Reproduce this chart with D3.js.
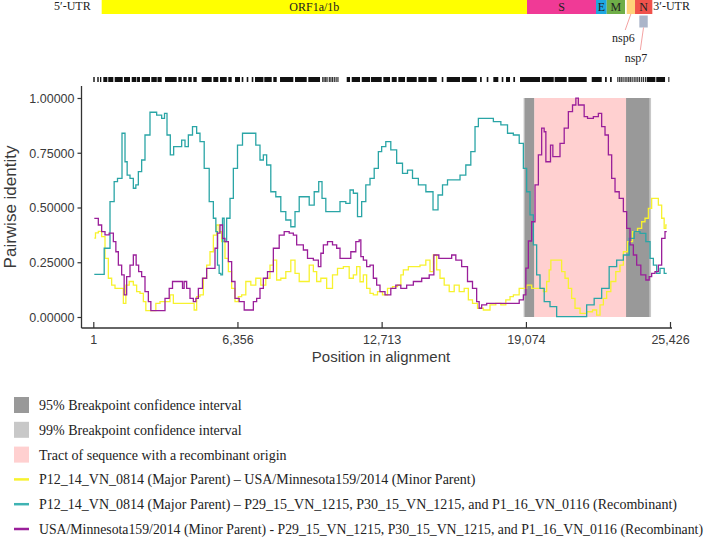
<!DOCTYPE html>
<html>
<head>
<meta charset="utf-8">
<script src="https://cdn.jsdelivr.net/npm/d3@7"></script>
<style>
  body { margin: 0; background: #fff; }
  svg { display: block; }
  .tick-label { font-family: "Liberation Sans", Arial, sans-serif; fill: #3a3a3a; }
  .serif { font-family: "Liberation Serif", "Times New Roman", serif; fill: #222; }
</style>
</head>
<body>
<div id="chart"></div>
<script>
// Alignment axis
const xTicks = [1, 6356, 12713, 19074, 25426];
const yTicks = [0, 0.25, 0.5, 0.75, 1.0];

// Breakpoint intervals and recombinant tract (alignment positions)
const ci99 = [[18970, 19445], [23488, 24591]];
const ci95 = [[19022, 19445], [23488, 24516]];
const tract = [[19445, 23488]];

// Genome schematic (in alignment positions)
const genes = [
    {name: 'ORF1a/1b', start: 371, end: 19122, color: '#ffff00', label: true},
    {name: 'S', start: 19122, end: 22164, color: '#f03a96', label: true},
    {name: 'E', start: 22164, end: 22636, color: '#1ea7e1', label: true},
    {name: 'M', start: 22636, end: 23443, color: '#6fae48', label: true},
    {name: 'nsp6', start: 23518, end: 23884, color: '#ffd27a', label: false},
    {name: 'N', start: 23884, end: 24647, color: '#f0524c', label: true}
];
const nsp7 = {start: 24074, end: 24444};

// Informative sites along the alignment
const siteBlocks = [
    [1, 63], [177, 239], [296, 354], [442, 620], [660, 883], [944, 1297], [1355, 1619],
    [1694, 1900], [1930, 2060], [2135, 2501], [2558, 2800], [2830, 3017], [3162, 3678],
    [3749, 3899], [3969, 4119], [4190, 4340], [4410, 4560], [4780, 5221], [5292, 5512],
    [5587, 5883], [5953, 6103], [6249, 6469], [6544, 6615], [6764, 6835], [6985, 7055],
    [7130, 7500], [7540, 7867], [7937, 8087], [8233, 8819], [8894, 9410], [9480, 9996],
    [11173, 11319], [11394, 11760], [11835, 12200], [12240, 12717], [12787, 13083],
    [13158, 13378], [13448, 13744], [13819, 14260], [14330, 14701], [14771, 15142],
    [15362, 15432], [15582, 16169], [16244, 16905], [17051, 17126], [17346, 17417],
    [17637, 17857], [18007, 18078], [18197, 18373], [18519, 18594], [18814, 19696],
    [19771, 20300], [20340, 20873], [20944, 21755], [21975, 22416], [22562, 22637],
    [22782, 22857], [24400, 24780], [24820, 25207], [25353, 25397]
];
const sparseSites = [10090, 10150, 10220, 10280, 10380, 10450, 10520, 10600, 10680, 10760,
    23100, 23180, 23250, 23330, 23420, 23500, 23580, 23650, 23730, 23820, 23900, 23980,
    24060, 24150, 24230, 24320];

// Series: [alignment position, pairwise identity]
const yellowSeries = [
    [45, 0.360], [149, 0.384], [296, 0.391], [442, 0.367], [592, 0.268], [737, 0.177], [883, 0.146],
    [1033, 0.131], [1253, 0.131], [1399, 0.062], [1474, 0.146], [1694, 0.162], [1839, 0.146],
    [1985, 0.116], [2135, 0.108], [2280, 0.070], [2355, 0.029], [2721, 0.029], [2796, 0.062],
    [3087, 0.070], [3308, 0.070], [3458, 0.101], [3603, 0.062], [4044, 0.062], [4410, 0.062],
    [4485, 0.032], [4630, 0.093], [4780, 0.101], [4926, 0.177], [5071, 0.237], [5221, 0.298],
    [5367, 0.374], [5512, 0.420], [5586, 0.390], [5732, 0.344], [5882, 0.268], [6028, 0.207],
    [6173, 0.131], [6323, 0.070], [6469, 0.093], [6614, 0.101], [6835, 0.162], [7055, 0.146],
    [7275, 0.177], [7496, 0.146], [7716, 0.177], [7866, 0.237], [8012, 0.260], [8157, 0.169],
    [8378, 0.177], [8598, 0.207], [8819, 0.260], [8969, 0.199], [9189, 0.162], [9410, 0.162],
    [9630, 0.237], [9776, 0.207], [9921, 0.162], [10142, 0.177], [10437, 0.131], [10657, 0.192],
    [10878, 0.222], [11173, 0.230], [11393, 0.177], [11539, 0.192], [11685, 0.230], [11834, 0.161],
    [11980, 0.192], [12125, 0.131], [12275, 0.108], [12420, 0.101], [12641, 0.116], [12861, 0.101],
    [13082, 0.131], [13302, 0.139], [13523, 0.146], [13598, 0.192], [13743, 0.215], [14039, 0.230],
    [14259, 0.230], [14550, 0.237], [14771, 0.260], [14921, 0.207], [15066, 0.283], [15212, 0.215],
    [15361, 0.177], [15582, 0.146], [15802, 0.116], [16023, 0.146], [16243, 0.116], [16463, 0.131],
    [16609, 0.078], [16829, 0.062], [17050, 0.040], [17345, 0.032], [17636, 0.055], [17857, 0.062],
    [18077, 0.055], [18298, 0.078], [18448, 0.093], [18594, 0.101], [18959, 0.131], [19254, 0.146],
    [19400, 0.131], [19770, 0.131], [19916, 0.116], [20061, 0.162], [20136, 0.215], [20211, 0.260],
    [20577, 0.260], [20722, 0.207], [20872, 0.177], [21018, 0.131], [21163, 0.085], [21313, 0.040],
    [21605, 0.017], [21900, 0.024], [22120, 0.032], [22266, 0.009], [22416, 0.055], [22561, 0.085],
    [22707, 0.116], [22927, 0.162], [23147, 0.207], [23297, 0.237], [23443, 0.298], [23664, 0.344],
    [23884, 0.390], [24104, 0.405], [24250, 0.435], [24399, 0.451], [24545, 0.496], [24691, 0.542],
    [24840, 0.542], [24986, 0.511], [25131, 0.451], [25206, 0.405], [25281, 0.420]
];

const tealSeries = [
    [45, 0.195], [371, 0.195], [592, 0.314], [883, 0.527], [958, 0.618], [1178, 0.633], [1355, 0.839],
    [1443, 0.709], [1544, 0.648], [1694, 0.633], [1839, 0.588], [1914, 0.603], [2060, 0.664],
    [2205, 0.717], [2355, 0.831], [2646, 0.935], [2942, 0.922], [3087, 0.907], [3193, 0.930],
    [3308, 0.831], [3484, 0.740], [3603, 0.778], [3824, 0.778], [3969, 0.808], [4119, 0.778],
    [4264, 0.831], [4485, 0.869], [4630, 0.839], [4780, 0.801], [5001, 0.679], [5221, 0.527],
    [5367, 0.451], [5441, 0.390], [5512, 0.237], [5586, 0.199], [5662, 0.192], [5732, 0.451],
    [5807, 0.344], [5953, 0.451], [6103, 0.542], [6248, 0.679], [6469, 0.785], [6689, 0.839],
    [7055, 0.839], [7275, 0.785], [7425, 0.717], [7571, 0.740], [7716, 0.694], [7937, 0.572],
    [8157, 0.549], [8378, 0.481], [8598, 0.443], [8819, 0.412], [8969, 0.481], [9189, 0.549],
    [9410, 0.549], [9630, 0.511], [9851, 0.572], [10027, 0.618], [10142, 0.542], [10362, 0.481],
    [10732, 0.481], [11023, 0.527], [11244, 0.519], [11393, 0.580], [11539, 0.565], [11759, 0.458],
    [11905, 0.527], [12125, 0.603], [12275, 0.633], [12495, 0.679], [12641, 0.755], [12786, 0.778],
    [13007, 0.801], [13227, 0.763], [13523, 0.702], [13743, 0.656], [13964, 0.671], [14184, 0.633],
    [14480, 0.603], [14846, 0.572], [15110, 0.489], [15287, 0.557], [15507, 0.603], [15727, 0.626],
    [16023, 0.626], [16314, 0.648], [16534, 0.694], [16755, 0.755], [16905, 0.869], [17050, 0.907],
    [17491, 0.907], [17787, 0.892], [18152, 0.877], [18373, 0.839], [18668, 0.831], [18889, 0.793],
    [19034, 0.679], [19180, 0.572], [19329, 0.466], [19475, 0.329], [19620, 0.192], [19770, 0.131],
    [19991, 0.070], [20282, 0.047], [20577, 0.002], [21605, 0.002], [21900, 0.055], [22266, 0.085],
    [22561, 0.131], [22927, 0.230], [23223, 0.260], [23518, 0.283], [23738, 0.359], [23959, 0.390],
    [24250, 0.382], [24471, 0.344], [24620, 0.268], [24766, 0.237], [24911, 0.199], [25061, 0.222],
    [25281, 0.199]
];

const purpleSeries = [
    [45, 0.450], [149, 0.450], [296, 0.420], [442, 0.390], [592, 0.375], [812, 0.383], [958, 0.344],
    [1033, 0.298], [1178, 0.237], [1324, 0.192], [1399, 0.101], [1544, 0.184], [1694, 0.237],
    [1839, 0.283], [1941, 0.237], [2060, 0.207], [2205, 0.184], [2355, 0.116], [2501, 0.070],
    [2576, 0.029], [3087, 0.029], [3237, 0.085], [3458, 0.131], [3528, 0.162], [3898, 0.162],
    [3969, 0.131], [4044, 0.162], [4189, 0.131], [4339, 0.085], [4485, 0.070], [4560, 0.085],
    [4705, 0.131], [4926, 0.177], [5071, 0.222], [5292, 0.222], [5441, 0.314], [5512, 0.383],
    [5662, 0.420], [5732, 0.359], [5882, 0.344], [6028, 0.253], [6173, 0.162], [6323, 0.085],
    [6544, 0.070], [6764, 0.032], [6985, 0.032], [7130, 0.070], [7275, 0.085], [7425, 0.131],
    [7571, 0.177], [7791, 0.207], [8087, 0.314], [8307, 0.374], [8528, 0.390], [8748, 0.383],
    [8894, 0.374], [9039, 0.329], [9189, 0.329], [9335, 0.306], [9555, 0.268], [9851, 0.260],
    [9996, 0.230], [10071, 0.291], [10216, 0.329], [10437, 0.344], [10657, 0.329], [10803, 0.314],
    [10953, 0.268], [11244, 0.268], [11464, 0.298], [11685, 0.344], [11759, 0.352], [11834, 0.276],
    [11980, 0.260], [12125, 0.230], [12275, 0.237], [12420, 0.177], [12566, 0.146], [12716, 0.116],
    [13007, 0.101], [13227, 0.131], [13448, 0.146], [13668, 0.131], [13964, 0.146], [14259, 0.162],
    [14700, 0.177], [14921, 0.192], [15110, 0.283], [15361, 0.268], [15727, 0.268], [15873, 0.283],
    [16094, 0.260], [16388, 0.230], [16609, 0.162], [16829, 0.131], [16975, 0.070], [17050, 0.040],
    [17195, 0.055], [17491, 0.062], [18668, 0.062], [18889, 0.078], [19034, 0.101], [19109, 0.223],
    [19254, 0.347], [19400, 0.435], [19550, 0.603], [19695, 0.740], [19840, 0.862], [19916, 0.846],
    [19991, 0.709], [20105, 0.709], [20211, 0.785], [20312, 0.732], [20502, 0.732], [20652, 0.793],
    [20872, 0.862], [21018, 0.938], [21238, 0.968], [21313, 0.999], [21458, 0.968], [21605, 0.968],
    [21679, 0.915], [21900, 0.907], [22195, 0.915], [22340, 0.930], [22486, 0.869], [22636, 0.831],
    [22782, 0.740], [22927, 0.633], [23077, 0.572], [23297, 0.542], [23443, 0.481], [23588, 0.405],
    [23738, 0.329], [23884, 0.283], [24029, 0.237], [24250, 0.192], [24471, 0.169], [24545, 0.184],
    [24691, 0.199], [24840, 0.207], [24986, 0.237], [25131, 0.359], [25281, 0.390]
];

const seriesColors = {yellow: '#f7f22e', teal: '#2aa5a6', purple: '#9a1f9a'};

const legendItems = [
    {type: 'box', color: '#999999', text: '95% Breakpoint confidence interval'},
    {type: 'box', color: '#c8c8c8', text: '99% Breakpoint confidence interval'},
    {type: 'box', color: '#ffd0d0', text: 'Tract of sequence with a recombinant origin'},
    {type: 'line', color: seriesColors.yellow, text: 'P12_14_VN_0814 (Major Parent) \u2013 USA/Minnesota159/2014 (Minor Parent)'},
    {type: 'line', color: '#3fb3b3', text: 'P12_14_VN_0814 (Major Parent) \u2013 P29_15_VN_1215, P30_15_VN_1215, and P1_16_VN_0116 (Recombinant)'},
    {type: 'line', color: seriesColors.purple, text: 'USA/Minnesota159/2014 (Minor Parent) - P29_15_VN_1215, P30_15_VN_1215, and P1_16_VN_0116 (Recombinant)', fit: 664}
];

const width = 709, height = 538;
const svg = d3.select('#chart').append('svg')
    .attr('width', width)
    .attr('height', height);

const x = d3.scaleLinear().domain([1, 25426]).range([93.3, 670]);
const y = d3.scaleLinear().domain([0, 1]).range([317, 98]);
const axisX = 81.5, axisY = 328;

// ---- genome schematic ----
const genomeG = svg.append('g');
genomeG.selectAll('rect.gene')
    .data(genes)
    .enter().append('rect')
    .attr('class', 'gene')
    .attr('x', d => x(d.start))
    .attr('y', 0)
    .attr('width', d => x(d.end) - x(d.start))
    .attr('height', 14)
    .attr('fill', d => d.color);

genomeG.selectAll('text.gene')
    .data(genes.filter(d => d.label))
    .enter().append('text')
    .attr('class', 'serif gene')
    .attr('x', d => (x(d.start) + x(d.end)) / 2)
    .attr('y', 11)
    .attr('text-anchor', 'middle')
    .style('font-size', '12px')
    .text(d => d.name);

genomeG.append('rect')
    .attr('x', x(nsp7.start))
    .attr('y', 15.5)
    .attr('width', x(nsp7.end) - x(nsp7.start))
    .attr('height', 12)
    .attr('fill', '#abb5c9');

genomeG.append('text').attr('class', 'serif')
    .attr('x', x(genes[0].start) - 11).attr('y', 10)
    .attr('text-anchor', 'end').style('font-size', '12px')
    .text('5\u2032-UTR');
genomeG.append('text').attr('class', 'serif')
    .attr('x', x(genes[5].end) + 1).attr('y', 10)
    .style('font-size', '12px')
    .text('3\u2032-UTR');

// nsp6 / nsp7 callouts
const nsp6 = genes[4];
genomeG.append('line')
    .attr('x1', x(nsp6.start) - 1.5).attr('y1', 30)
    .attr('x2', (x(nsp6.start) + x(nsp6.end)) / 2).attr('y2', 14)
    .attr('stroke', '#f08a8a').attr('stroke-width', 0.8);
genomeG.append('text').attr('class', 'serif')
    .attr('x', x(nsp6.start) + 8).attr('y', 42)
    .attr('text-anchor', 'end').style('font-size', '12px')
    .text('nsp6');
genomeG.append('line')
    .attr('x1', x(nsp7.start) + 1).attr('y1', 50)
    .attr('x2', (x(nsp7.start) + x(nsp7.end)) / 2).attr('y2', 27.5)
    .attr('stroke', '#f08a8a').attr('stroke-width', 0.8);
genomeG.append('text').attr('class', 'serif')
    .attr('x', x(nsp7.start) + 8).attr('y', 62)
    .attr('text-anchor', 'end').style('font-size', '12px')
    .text('nsp7');

// informative sites
genomeG.selectAll('rect.site')
    .data(siteBlocks)
    .enter().append('rect')
    .attr('class', 'site')
    .attr('x', d => x(d[0]))
    .attr('y', 77)
    .attr('width', d => Math.max(1, x(d[1]) - x(d[0])))
    .attr('height', 5)
    .attr('fill', '#111');
genomeG.selectAll('rect.sparse')
    .data(sparseSites)
    .enter().append('rect')
    .attr('class', 'sparse')
    .attr('x', d => x(d))
    .attr('y', 77)
    .attr('width', 1.2)
    .attr('height', 5)
    .attr('fill', '#333');

// ---- plot ----
const plot = svg.append('g');

plot.selectAll('rect.ci99')
    .data(ci99)
    .enter().append('rect')
    .attr('x', d => x(d[0]))
    .attr('y', y(1))
    .attr('width', d => x(d[1]) - x(d[0]))
    .attr('height', y(0) - y(1))
    .attr('fill', '#c8c8c8');
plot.selectAll('rect.ci95')
    .data(ci95)
    .enter().append('rect')
    .attr('x', d => x(d[0]))
    .attr('y', y(1))
    .attr('width', d => x(d[1]) - x(d[0]))
    .attr('height', y(0) - y(1))
    .attr('fill', '#999999');
plot.selectAll('rect.tract')
    .data(tract)
    .enter().append('rect')
    .attr('x', d => x(d[0]))
    .attr('y', y(1))
    .attr('width', d => x(d[1]) - x(d[0]))
    .attr('height', y(0) - y(1))
    .attr('fill', '#ffd0d0');

// sliding-window identity drawn as a stepped trace
const line = d3.line()
    .curve(d3.curveStep)
    .x(d => x(d[0]))
    .y(d => y(d[1]));

[[yellowSeries, seriesColors.yellow], [tealSeries, seriesColors.teal], [purpleSeries, seriesColors.purple]]
    .forEach(([data, color]) => {
        plot.append('path')
            .datum(data)
            .attr('d', line)
            .attr('fill', 'none')
            .attr('stroke', color)
            .attr('stroke-width', 1.3);
    });

// axes
plot.append('line')
    .attr('x1', axisX).attr('x2', axisX)
    .attr('y1', 86).attr('y2', axisY)
    .attr('stroke', '#333').attr('stroke-width', 1.3);
plot.append('line')
    .attr('x1', axisX).attr('x2', 672)
    .attr('y1', axisY).attr('y2', axisY)
    .attr('stroke', '#333').attr('stroke-width', 1.3);

const yAxis = d3.axisLeft(y).tickValues(yTicks).tickSize(4).tickFormat(d3.format('.5f'));
const gy = plot.append('g').attr('transform', `translate(${axisX},0)`).call(yAxis);
gy.select('.domain').remove();
gy.selectAll('line').attr('stroke', '#333').attr('stroke-width', 1.2);
gy.selectAll('text').attr('class', 'tick-label').style('font-size', '12.5px').attr('x', -7).attr('dy', '0.35em');

const xAxis = d3.axisTop(x).tickValues(xTicks).tickSize(6).tickFormat(d3.format(','));
const gx = plot.append('g').attr('transform', `translate(0,${axisY})`).call(xAxis);
gx.select('.domain').remove();
gx.selectAll('line').attr('stroke', '#333').attr('stroke-width', 1.2);
gx.selectAll('text').attr('class', 'tick-label').style('font-size', '12.5px').attr('y', 16).attr('dy', 0);

plot.append('text').attr('class', 'tick-label')
    .attr('x', 381).attr('y', 362)
    .attr('text-anchor', 'middle').style('font-size', '15px')
    .text('Position in alignment');
plot.append('text').attr('class', 'tick-label')
    .attr('transform', 'translate(16,207) rotate(-90)')
    .attr('text-anchor', 'middle').style('font-size', '17px')
    .text('Pairwise identity');

// ---- legend ----
const legend = svg.append('g').attr('transform', 'translate(0,405)');
const rows = legend.selectAll('g.row')
    .data(legendItems)
    .enter().append('g')
    .attr('class', 'row')
    .attr('transform', (d, i) => `translate(0,${i * 24.8})`);
rows.filter(d => d.type === 'box').append('rect')
    .attr('x', 14).attr('y', -8).attr('width', 15).attr('height', 16)
    .attr('fill', d => d.color);
rows.filter(d => d.type === 'line').append('line')
    .attr('x1', 14).attr('x2', 29).attr('y1', 0).attr('y2', 0)
    .attr('stroke', d => d.color).attr('stroke-width', 2.5);
const labels = rows.append('text').attr('class', 'serif')
    .attr('x', 39).attr('y', 5)
    .style('font-size', d => d.fit ? '13.6px' : '14px')
    .text(d => d.text);
labels.filter(d => d.fit)
    .attr('textLength', d => d.fit)
    .attr('lengthAdjust', 'spacingAndGlyphs');
</script>
</body>
</html>
